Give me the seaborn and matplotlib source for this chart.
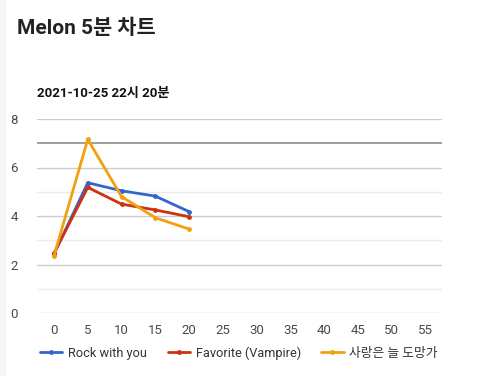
import matplotlib
matplotlib.use("Agg")
import matplotlib.pyplot as plt
import seaborn as sns
import pandas as pd
import matplotlib.patches as mpatches

sns.set_theme(style="white")
plt.rcParams['font.family'] = ['Roboto', 'Noto Sans CJK KR', 'DejaVu Sans']

minutes = [0, 5, 10, 15, 20]
rock_with_you = [2.43, 5.37, 5.04, 4.82, 4.18]
favorite = [2.46, 5.18, 4.49, 4.25, 3.97]
saranng = [2.35, 7.16, 4.80, 3.93, 3.46]
series_names = ["Rock with you", "Favorite (Vampire)", "사랑은 늘 도망가"]
colors = ["#3366cc", "#cc3311", "#f0a010"]
x_ticks = list(range(0, 60, 5))
y_ticks = [0, 2, 4, 6, 8]
ref_value = 7

rows = []
for name, vals in zip(series_names, [rock_with_you, favorite, saranng]):
    for m, v in zip(minutes, vals):
        rows.append({"min": m, "val": v, "song": name})
df = pd.DataFrame(rows)

fig = plt.figure(figsize=(4.8, 3.76), dpi=100)
fig.patches.append(mpatches.Rectangle((0, 0), 5 / 480, 1, transform=fig.transFigure,
                                      color="#f6f7fa", zorder=0))
ax = fig.add_axes([37.3 / 480, 63 / 376, (441.7 - 37.3) / 480, 194 / 376])

for y in [1, 3, 5]:
    ax.axhline(y, color="#ebebeb", lw=1, zorder=0)
for y in y_ticks:
    ax.axhline(y, color="#cccccc", lw=1, zorder=0)
ax.axhline(ref_value, color="#8c8c8c", lw=1.2, zorder=1)

sns.lineplot(data=df, x="min", y="val", hue="song", hue_order=series_names,
             palette=colors, marker="o", markersize=3.5, markeredgewidth=0,
             linewidth=2, ax=ax, zorder=3)

ax.set_xlim(-2.47, 57.4)
ax.set_ylim(0, 8)
ax.set_xticks(x_ticks)
ax.set_yticks(y_ticks)
ax.tick_params(axis="both", length=0, labelsize=9.5, labelcolor="#4a4a4a")
ax.tick_params(axis="x", pad=8)
ax.tick_params(axis="y", pad=14)
for s in ax.spines.values():
    s.set_visible(False)
ax.set_xlabel("")
ax.set_ylabel("")

handles, labels = ax.get_legend_handles_labels()
ax.get_legend().remove()
fig.legend(handles, labels, loc="center", bbox_to_anchor=(239 / 480, 1 - 353 / 376),
           ncol=3, frameon=False, fontsize=9.2, handlelength=1.75, handletextpad=0.45,
           columnspacing=1.6, labelcolor="#333333")

fig.text(17 / 480, 1 - 28 / 376, "Melon 5분 차트", fontsize=15, fontweight="bold",
         color="#222222", va="center", ha="left")
fig.text(37 / 480, 1 - 93 / 376, "2021-10-25 22시 20분", fontsize=9.5, fontweight="bold",
         color="#111111", va="center", ha="left")

fig.savefig("out.png", dpi=100)
